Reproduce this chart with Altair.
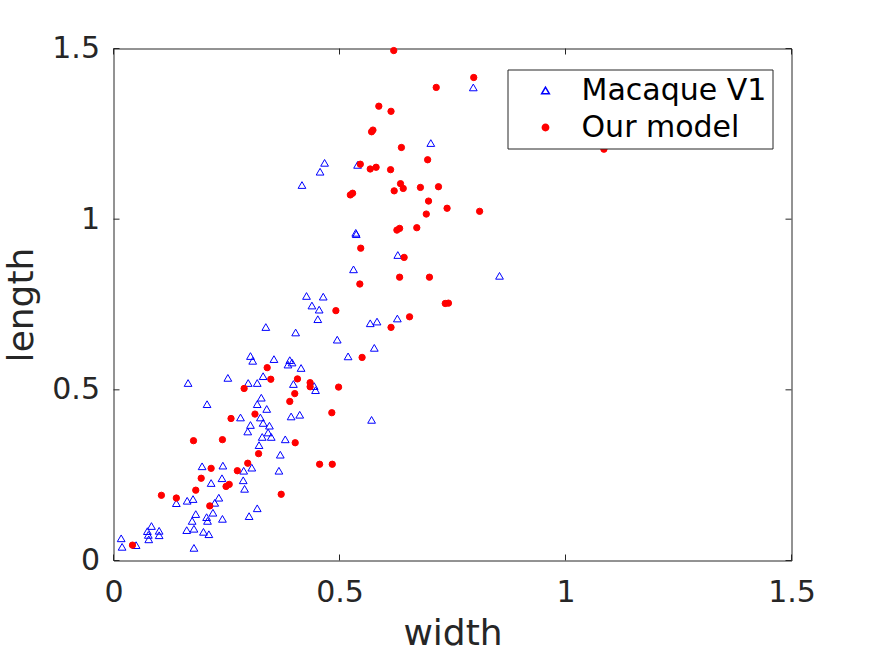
import altair as alt
import pandas as pd

# Macaque V1 (blue open triangles)
mac_w = [0.796, 0.702, 0.467, 0.457, 0.417, 0.540, 0.536, 0.537, 0.629, 0.531, 0.854,
         0.427, 0.464, 0.439, 0.455, 0.452, 0.337, 0.403, 0.568, 0.583, 0.628, 0.495,
         0.577, 0.519, 0.303, 0.308, 0.355, 0.390, 0.386, 0.395, 0.415, 0.253, 0.165,
         0.298, 0.318, 0.331, 0.398, 0.444, 0.447, 0.327, 0.318, 0.207, 0.339, 0.281,
         0.325, 0.393, 0.412, 0.571, 0.303, 0.331, 0.345, 0.297, 0.342, 0.329, 0.349,
         0.380, 0.322, 0.369, 0.196, 0.242, 0.306, 0.288, 0.366, 0.240, 0.216, 0.287,
         0.290, 0.233, 0.176, 0.163, 0.139, 0.224, 0.318, 0.182, 0.220, 0.300, 0.206,
         0.208, 0.174, 0.241, 0.178, 0.162, 0.199, 0.211, 0.084, 0.075, 0.101, 0.077,
         0.101, 0.078, 0.017, 0.019, 0.050, 0.178]
mac_l = [1.386, 1.223, 1.165, 1.139, 1.100, 1.159, 0.960, 0.956, 0.895, 0.853, 0.834,
         0.775, 0.773, 0.747, 0.735, 0.707, 0.684, 0.668, 0.695, 0.700, 0.709, 0.647,
         0.623, 0.598, 0.599, 0.585, 0.590, 0.587, 0.574, 0.580, 0.564, 0.535, 0.520,
         0.520, 0.520, 0.540, 0.517, 0.511, 0.499, 0.477, 0.458, 0.458, 0.444, 0.419,
         0.419, 0.422, 0.427, 0.412, 0.397, 0.403, 0.395, 0.378, 0.375, 0.362, 0.362,
         0.355, 0.338, 0.310, 0.276, 0.278, 0.272, 0.263, 0.263, 0.241, 0.227, 0.235,
         0.210, 0.184, 0.180, 0.175, 0.168, 0.169, 0.153, 0.136, 0.140, 0.130, 0.127,
         0.116, 0.116, 0.122, 0.093, 0.089, 0.084, 0.077, 0.101, 0.086, 0.087, 0.075,
         0.074, 0.062, 0.065, 0.040, 0.045, 0.037]

# Our model (red dots)
mod_w = [0.620, 0.797, 0.714, 0.587, 0.614, 0.571, 0.574, 0.637, 1.085, 0.695, 0.546,
         0.568, 0.581, 0.613, 0.635, 0.641, 0.621, 0.679, 0.719, 0.524, 0.529, 0.697,
         0.738, 0.692, 0.810, 0.627, 0.633, 0.671, 0.547, 0.643, 0.633, 0.699, 0.545,
         0.734, 0.741, 0.655, 0.492, 0.614, 0.550, 0.340, 0.348, 0.407, 0.289, 0.435,
         0.435, 0.498, 0.401, 0.390, 0.483, 0.260, 0.313, 0.177, 0.241, 0.402, 0.321,
         0.297, 0.456, 0.484, 0.216, 0.274, 0.194, 0.182, 0.249, 0.256, 0.371, 0.106,
         0.139, 0.213, 0.042]
mod_l = [1.494, 1.415, 1.386, 1.331, 1.316, 1.256, 1.261, 1.210, 1.205, 1.174, 1.161,
         1.147, 1.152, 1.145, 1.104, 1.090, 1.083, 1.093, 1.095, 1.071, 1.076, 1.053,
         1.032, 1.015, 1.023, 0.968, 0.973, 0.975, 0.915, 0.888, 0.830, 0.830, 0.810,
         0.753, 0.754, 0.714, 0.732, 0.683, 0.595, 0.565, 0.531, 0.532, 0.504, 0.521,
         0.509, 0.508, 0.489, 0.466, 0.433, 0.416, 0.429, 0.351, 0.354, 0.345, 0.313,
         0.285, 0.282, 0.282, 0.270, 0.263, 0.241, 0.206, 0.217, 0.223, 0.194, 0.191,
         0.183, 0.160, 0.045]

series_names = ["Macaque V1", "Our model"]
tick_values = [0, 0.5, 1, 1.5]

df = pd.concat([
    pd.DataFrame({"width": mac_w, "length": mac_l, "series": series_names[0]}),
    pd.DataFrame({"width": mod_w, "length": mod_l, "series": series_names[1]}),
], ignore_index=True)
df["order"] = range(len(df))

ticks_x = pd.DataFrame({"width": tick_values})
ticks_y = pd.DataFrame({"length": tick_values})

W, H = 678, 512
TXT = "#262626"
FONT = "DejaVu Sans"

xscale = alt.Scale(domain=[0, 1.5], nice=False, zero=False)
yscale = alt.Scale(domain=[0, 1.5], nice=False, zero=False)
xaxis = alt.Axis(values=tick_values, format="~g", title="width", grid=False, domain=False,
                 ticks=False, labelPadding=17, labelFontSize=30, labelColor=TXT,
                 labelFlush=False, titleFontSize=36, titleColor=TXT, titleFontWeight="normal",
                 titlePadding=9, labelFont=FONT, titleFont=FONT)
yaxis = alt.Axis(values=tick_values, format="~g", title="length", grid=False, domain=False,
                 ticks=False, labelPadding=14, labelFontSize=30, labelColor=TXT,
                 labelFlush=False, titleFontSize=36, titleColor=TXT, titleFontWeight="normal",
                 titlePadding=11, labelFont=FONT, titleFont=FONT)

points = alt.Chart(df).mark_point(strokeWidth=1, opacity=1).encode(
    x=alt.X("width:Q", scale=xscale, axis=xaxis),
    y=alt.Y("length:Q", scale=yscale, axis=yaxis),
    shape=alt.Shape("series:N", scale=alt.Scale(domain=series_names, range=["triangle-up", "circle"]),
                    legend=alt.Legend(title=None, orient="none", legendX=394, legendY=21,
                                      labelFontSize=30, labelFont=FONT, labelColor="black",
                                      labelLimit=0,
                                      strokeColor=TXT, fillColor="white", padding=6,
                                      rowPadding=7, symbolOffset=17, labelOffset=21,
                                      cornerRadius=0)),
    stroke=alt.Stroke("series:N", scale=alt.Scale(domain=series_names, range=["#0000ff", "#ff0000"]),
                      legend=alt.Legend(title=None)),
    fill=alt.Fill("series:N", scale=alt.Scale(domain=series_names, range=["transparent", "#ff0000"]),
                  legend=alt.Legend(title=None)),
    size=alt.Size("series:N", scale=alt.Scale(domain=series_names, range=[60, 40]),
                  legend=alt.Legend(title=None)),
    order=alt.Order("order:Q"),
)

tick_color = TXT
xt_bottom = alt.Chart(ticks_x).mark_rule(color=tick_color, strokeWidth=1).encode(
    x=alt.X("width:Q", scale=xscale, axis=xaxis), y=alt.value(H), y2=alt.value(H - 6))
xt_top = alt.Chart(ticks_x).mark_rule(color=tick_color, strokeWidth=1).encode(
    x=alt.X("width:Q", scale=xscale, axis=xaxis), y=alt.value(0), y2=alt.value(6))
yt_left = alt.Chart(ticks_y).mark_rule(color=tick_color, strokeWidth=1).encode(
    y=alt.Y("length:Q", scale=yscale, axis=yaxis), x=alt.value(0), x2=alt.value(6))
yt_right = alt.Chart(ticks_y).mark_rule(color=tick_color, strokeWidth=1).encode(
    y=alt.Y("length:Q", scale=yscale, axis=yaxis), x=alt.value(W), x2=alt.value(W - 6))

chart = alt.layer(xt_bottom, xt_top, yt_left, yt_right, points).properties(
    width=W, height=H,
    background="white",
    autosize=alt.AutoSizeParams(type="none"),
    padding={"left": 113.5, "top": 48.5, "right": 83.5, "bottom": 95.5},
).configure_view(stroke=TXT, strokeWidth=1)

chart.save("out.html", embed_options={"renderer": "svg", "actions": False})
